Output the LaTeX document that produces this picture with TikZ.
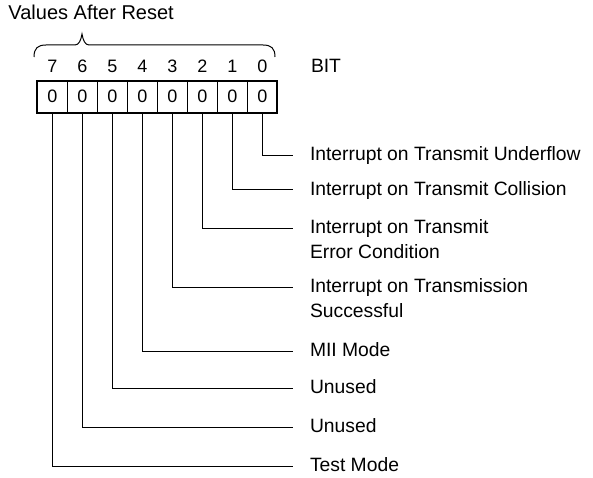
\documentclass[tikz,border=0pt]{standalone}
\usepackage{fontspec}
\setmainfont{Liberation Sans}
\usetikzlibrary{positioning}
\begin{document}
\begin{tikzpicture}
        [x=1pt, y=-1pt,
        every node/.style={inner sep=0pt, outer sep=0pt, font=\fontsize{19.3}{25}\selectfont},
        cell/.style={rectangle, draw, line width=1.2pt, minimum width=30pt, minimum height=32pt, font=\fontsize{18}{20}\selectfont},
        bitno/.style={above=8pt of #1, font=\fontsize{18}{20}\selectfont},
        fieldtext/.style={anchor=base west, align=left},
        leader/.style={line width=1pt},]

        \useasboundingbox (0,0) rectangle (593,478);

        \node[anchor=base west, font=\fontsize{20}{24}\selectfont] (title) at (8.5,19.5) {Values After Reset};

        \node[cell] (c7) at (52.3,96.7) {0};
        \node[cell, right=0pt of c7] (c6) {0};
        \node[cell, right=0pt of c6] (c5) {0};
        \node[cell, right=0pt of c5] (c4) {0};
        \node[cell, right=0pt of c4] (c3) {0};
        \node[cell, right=0pt of c3] (c2) {0};
        \node[cell, right=0pt of c2] (c1) {0};
        \node[cell, right=0pt of c1] (c0) {0};
        \draw[line width=1.8pt] (c7.north west) rectangle (c0.south east);

        \node[bitno=c7] (b7) {7};
        \node[bitno=c6] (b6) {6};
        \node[bitno=c5] (b5) {5};
        \node[bitno=c4] (b4) {4};
        \node[bitno=c3] (b3) {3};
        \node[bitno=c2] (b2) {2};
        \node[bitno=c1] (b1) {1};
        \node[bitno=c0] (b0) {0};
        \node[anchor=base west] (bit) at (311,72.5) {BIT};

        \draw[line width=1pt] (34,57) .. controls (34,48) and (38,45) .. (46,45) -- (75,45)
            .. controls (79,45) and (81,40) .. (82,34) .. controls (83,40) and (85,45) .. (89,45)
            -- (263,45) .. controls (271,45) and (275,48) .. (275,57);

        \coordinate (e0) at (293,155.5);
        \coordinate (e1) at (293,190);
        \coordinate (e2) at (293,228);
        \coordinate (e3) at (293,287);
        \coordinate (e4) at (293,351.5);
        \coordinate (e5) at (293,388);
        \coordinate (e6) at (293,427.5);
        \coordinate (e7) at (293,466);

        \node[fieldtext] (t0) at (310,160.5) {Interrupt on Transmit Underflow};
        \node[fieldtext] (t1) at (310,195) {Interrupt on Transmit Collision};
        \node[fieldtext] (t2) at (310,258) {Interrupt on Transmit\\Error Condition};
        \node[fieldtext] (t3) at (310,317) {Interrupt on Transmission\\Successful};
        \node[fieldtext] (t4) at (310,356.5) {MII Mode};
        \node[fieldtext] (t5) at (310,393) {Unused};
        \node[fieldtext] (t6) at (310,432.5) {Unused};
        \node[fieldtext] (t7) at (310,471) {Test Mode};

        \draw[leader] (c0.south) |- (e0);
        \draw[leader] (c1.south) |- (e1);
        \draw[leader] (c2.south) |- (e2);
        \draw[leader] (c3.south) |- (e3);
        \draw[leader] (c4.south) |- (e4);
        \draw[leader] (c5.south) |- (e5);
        \draw[leader] (c6.south) |- (e6);
        \draw[leader] (c7.south) |- (e7);

    \end{tikzpicture}
\end{document}
